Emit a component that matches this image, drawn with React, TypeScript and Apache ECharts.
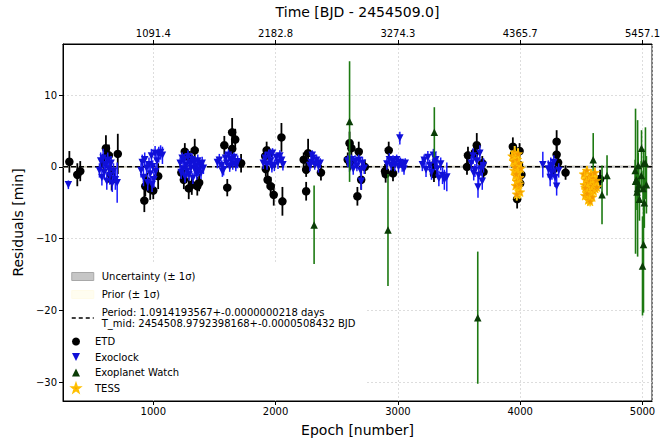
import React, { useEffect, useRef } from "react";
import * as echarts from "echarts";

const PERIOD = 1.0914193567;
const X_MIN = 262;
const X_MAX = 5078;
const Y_MIN = -32.6;
const Y_MAX = 17.1;
const FONT = "DejaVu Sans";

// ETD
const etdEpoch = [314, 379, 403,
  613, 605, 637, 710, 653, 660, 600,
  927, 935, 975, 1040, 950, 1000,
  1258, 1339, 1230, 1250, 1315, 1360, 1375, 1290, 1300,
  1581, 1645, 1670, 1645, 1718, 1605,
  1927, 1945, 2048, 1920, 1935, 1960, 1985, 2056, 1915,
  2266, 2230, 2250, 2371, 2250,
  2605, 2620, 2680, 2610, 2669, 2700, 2730, 2590,
  2925, 2895, 2900, 2960,
  3290, 3295,
  3573, 3645, 3565, 3700, 3690, 3630,
  3940, 3995, 3990, 4010, 4000, 3975, 3950,
  4298, 4298, 4310, 4270, 4371,
  4653];
const etdResid = [0.7, -1.1, -0.6,
  2.6, 1.3, 1.6, 1.8, -1.1, -1.8, 0.3,
  -4.7, -2.7, -3.1, -1.3, -2.0, -3.3,
  2.1, 2.3, -0.8, -1.8, -2.5, -2.7, -2.2, -3.0, 1.2,
  3.0, 4.8, 3.8, 2.5, 0.5, -2.9,
  2.3, 1.8, 4.1, -0.3, -1.8, -2.7, -3.9, -4.8, 1.5,
  1.9, 1.0, -0.4, -0.8, -3.4,
  3.3, 2.6, 2.1, 0.5, -4.1, -1.8, 0.0, 1.0,
  2.3, -0.6, -1.0, -0.9,
  0.2, -1.0,
  1.6, 3.0, 0.0, -0.7, 0.5, 2.0,
  2.8, 2.2, 0.3, -1.1, -2.3, -4.5, 1.8,
  3.5, 1.7, 0.6, -0.4, -0.8,
  -1.7];
const etdErr = [1.5, 1.6, 1.4,
  1.8, 1.2, 1.5, 2.8, 1.3, 1.5, 1.0,
  1.6, 1.4, 1.5, 1.8, 1.2, 1.2,
  1.2, 1.6, 1.0, 1.3, 1.4, 1.3, 1.2, 1.5, 1.0,
  1.3, 2.0, 1.5, 1.4, 1.3, 1.2,
  1.2, 1.0, 2.0, 1.0, 1.2, 1.3, 1.5, 2.0, 1.0,
  2.0, 1.0, 1.0, 1.1, 1.3,
  1.6, 1.2, 1.4, 1.0, 1.3, 1.4, 1.0, 1.0,
  1.2, 1.0, 1.2, 1.1,
  1.0, 1.1,
  1.2, 1.7, 1.1, 1.0, 1.0, 1.0,
  1.3, 1.1, 1.2, 1.0, 1.2, 1.3, 1.0,
  1.6, 1.2, 1.0, 1.0, 1.0,
  1.3];

// Exoclock
const exoEpoch = [306,
  560, 570, 580, 590, 600, 610, 620, 628, 636, 645, 655, 665, 675, 690, 705,
  900, 910, 920, 930, 945, 955, 965, 975, 985, 995, 1005, 1015, 1030, 1045, 1060, 1075, 1020, 990,
  1220, 1228, 1236, 1244, 1252, 1260, 1268, 1276, 1284, 1292, 1300, 1308, 1316, 1324, 1332, 1340, 1348, 1356, 1364, 1372, 1380, 1390, 1400, 1410,
  1524, 1540, 1560, 1575, 1590, 1600, 1615, 1625, 1635, 1650, 1660, 1675, 1690, 1565,
  1900, 1915, 1930, 1945, 1960, 1975, 1990, 2005, 2020, 2035, 2050, 2060, 1970,
  2290, 2305, 2320, 2335, 2350, 2300, 2280, 2365,
  2590, 2605, 2620, 2635, 2650, 2665, 2680, 2695, 2710, 2725, 2700,
  3016, 2910, 2930, 2945, 2960, 2975, 2990, 3005, 3020, 3035, 3050, 3060,
  3200, 3215, 3230, 3245, 3260, 3275, 3290, 3305, 3320, 3335, 3350, 3365, 3380, 3400, 3310,
  3600, 3615, 3630, 3645, 3660, 3670, 3680, 3690, 3655, 3700, 3620,
  4185, 4245, 4260, 4285, 4298, 4275, 4250, 4315, 4230];
const exoResid = [-2.5,
  -0.5, 0.8, -1.5, 1.2, -0.8, 0.3, -2.0, 0.9, -0.3, -1.2, 0.5, -2.3, -0.6, -1.8, -2.2,
  -0.5, 0.6, -1.5, 1.0, -0.2, -2.2, 0.3, -1.0, 1.5, 0.0, -1.8, 1.9, 0.8, 1.7, 2.0, 1.6, -0.7, -2.5,
  0.5, -0.8, 1.2, -0.3, 0.9, -1.4, 0.2, -0.6, 1.4, -1.1, 0.4, -0.2, 1.0, -1.6, 0.6, -0.4, 0.1, -1.0, 0.8, -0.5, 0.3, -0.9, 0.5, -0.2,
  0.6, 0.9, 0.2, -0.4, 1.2, 0.5, 1.6, 0.0, 1.0, 0.4, 1.3, 0.2, 0.7, -0.6,
  0.5, 1.2, 0.3, 1.6, 0.8, 1.9, 0.2, 1.3, 0.6, 1.5, 0.9, 0.3, 0.0,
  0.6, 1.2, 0.3, 0.9, 0.1, 1.6, 0.2, 0.5,
  0.8, 0.2, 1.0, -0.3, 0.7, 0.1, 0.9, -0.5, 0.5, -0.2, -2.0,
  4.0, 0.4, 1.0, 0.2, 0.8, 0.3, 1.0, 0.0, 0.6, 0.2, -0.3, 0.5,
  0.3, 0.9, -0.4, 1.3, 0.2, -0.8, 1.6, 0.5, -0.3, -1.6, 0.4, -1.2, -1.8, -1.4, 1.0,
  0.5, 1.5, -0.5, 0.8, -1.2, 1.9, -0.3, -2.0, -2.8, 0.2, -0.9,
  0.3, -1.5, -0.8, -1.5, -2.7, 0.6, 0.2, -0.5, -0.3];
const exoErr = [0.6,
  1.0, 1.2, 1.1, 1.3, 1.0, 0.9, 1.2, 1.1, 1.0, 1.3, 1.0, 1.2, 1.1, 1.4, 2.8,
  1.0, 1.1, 1.2, 1.0, 0.9, 1.1, 1.0, 1.2, 1.0, 0.9, 1.1, 1.0, 1.0, 1.1, 1.0, 1.2, 0.9, 1.0,
  0.8, 0.9, 0.8, 0.7, 0.9, 0.8, 0.7, 0.8, 0.9, 0.8, 0.7, 0.8, 0.9, 0.8, 0.7, 0.8, 0.7, 0.8, 0.9, 0.8, 0.7, 0.8, 0.9, 0.8,
  0.8, 0.9, 0.7, 0.8, 0.9, 0.7, 0.8, 0.7, 0.9, 0.8, 0.7, 0.8, 0.9, 0.8,
  0.8, 0.9, 0.7, 0.8, 0.9, 0.7, 0.8, 0.7, 0.9, 0.8, 0.7, 0.8, 0.8,
  0.8, 0.9, 0.7, 0.8, 0.9, 0.7, 0.8, 0.7,
  0.8, 0.9, 0.7, 0.8, 0.9, 0.7, 0.8, 0.7, 0.9, 0.8, 1.2,
  0.9, 0.8, 0.9, 0.7, 0.8, 0.9, 0.7, 0.8, 0.7, 0.9, 0.8, 0.7,
  0.9, 0.8, 1.0, 0.9, 0.8, 1.0, 0.9, 0.8, 1.0, 1.1, 0.9, 1.2, 1.4, 2.0, 0.9,
  1.0, 1.1, 0.9, 1.0, 1.2, 1.1, 0.9, 1.2, 1.5, 1.0, 1.0,
  1.8, 1.2, 1.0, 1.3, 1.3, 1.0, 1.1, 1.0, 1.2];

// Exoplanet Watch
const ewEpoch = [2315, 2605, 2919, 3298, 3653, 4597, 4669, 4710,
  4943, 4960, 4992, 5000, 5008, 5024, 5032,
  4940, 4950, 4955, 4965, 4970, 4975, 4990, 5005, 5010, 5015];
const ewResid = [-8.1, 6.3, -8.8, 4.8, -21.0, 1.0, -3.9, -1.2,
  -2.0, -3.0, 2.6, -13.8, -10.8, 0.5, -2.5,
  -0.5, -1.8, -3.5, 0.2, -2.5, -4.5, -1.2, -3.0, 0.5, -5.0];
const ewErr = [5.5, 8.4, 7.8, 3.5, 9.2, 3.7, 4.1, 2.8,
  10.1, 9.5, 2.5, 6.9, 9.5, 5.0, 4.0,
  1.5, 2.0, 2.5, 1.8, 2.2, 3.0, 2.0, 2.5, 2.0, 3.5];

// TESS
const tessEpoch = [3935, 3945, 3950, 3955, 3960, 3965, 3970, 3975, 3980, 3985, 3990, 3995, 4000, 4005, 3962, 3972, 3958, 3982, 3992, 3968,
  4520, 4525, 4530, 4535, 4540, 4545, 4550, 4555, 4560, 4565, 4570, 4575, 4580, 4585, 4590, 4595, 4600, 4605, 4610, 4615, 4620, 4627, 4532, 4547, 4572];
const tessResid = [1.5, 0.8, -0.5, 2.0, -1.2, 0.3, -2.0, 1.0, -0.8, -2.8, 0.5, -1.5, -3.5, -0.2, -2.6, -3.8, 0.0, 1.8, -2.4, -1.0,
  -1.0, -2.5, -4.0, -1.8, -3.2, -0.5, -2.2, -4.6, -1.4, -3.0, -2.0, -3.8, -1.0, -2.6, -4.2, -1.6, -3.3, -2.4, -0.8, -3.0, -1.9, -2.8, -2.9, -3.7, -4.8];
const tessErr = [0.8, 0.7, 0.8, 0.9, 0.7, 0.8, 0.9, 0.7, 0.8, 0.9, 0.7, 0.8, 0.9, 0.7, 0.8, 0.9, 0.7, 0.8, 0.9, 0.7,
  0.7, 0.8, 0.6, 0.7, 0.8, 0.6, 0.7, 0.8, 0.6, 0.7, 0.8, 0.6, 0.7, 0.8, 0.6, 0.7, 0.8, 0.6, 0.7, 0.8, 0.6, 0.7, 0.8, 0.6, 0.7];

// model line and bands
const modelEpoch = [X_MIN, X_MAX];
const modelResid = [0, 0];
const uncertHalf = [0.08, 0.17];
const priorHalf = [0.15, 0.2];

const LEGEND_PERIOD = "Period: 1.0914193567+-0.0000000218 days\nT_mid: 2454508.9792398168+-0.0000508432 BJD";
const DOWN_TRI = "path://M0,0 L10,0 L5,10 Z";
const UP_TRI = "path://M5,0 L10,10 L0,10 Z";
const STAR = "path://M5,0 L6.2,3.6 L10,3.8 L7,6.2 L8.1,10 L5,7.8 L1.9,10 L3,6.2 L0,3.8 L3.8,3.6 Z";

function errorSeries(id: string, ep: number[], re: number[], er: number[], color: string, width: number, z: number) {
  return {
    type: "custom",
    id,
    name: id,
    z,
    silent: true,
    clip: true,
    data: ep.map((e, i) => [e, re[i], er[i]]),
    encode: { x: 0, y: 1 },
    renderItem: (params: any, api: any) => {
      const x = api.value(0);
      const y = api.value(1);
      const e = api.value(2);
      const p1 = api.coord([x, y - e]);
      const p2 = api.coord([x, y + e]);
      return {
        type: "line",
        shape: { x1: p1[0], y1: p1[1], x2: p2[0], y2: p2[1] },
        style: { stroke: color, lineWidth: width },
      };
    },
  };
}

function bandSeries(name: string, half: number[], fill: string, z: number) {
  return {
    type: "custom",
    name,
    z,
    silent: true,
    itemStyle: { color: fill },
    data: modelEpoch.map((e, i) => [e, modelResid[i], half[i]]),
    encode: { x: 0, y: 1 },
    renderItem: (params: any, api: any) => {
      if (params.dataIndex !== 0) return null;
      const pts: number[][] = [];
      for (let i = 0; i < modelEpoch.length; i++) pts.push(api.coord([modelEpoch[i], modelResid[i] + half[i]]));
      for (let i = modelEpoch.length - 1; i >= 0; i--) pts.push(api.coord([modelEpoch[i], modelResid[i] - half[i]]));
      return { type: "polygon", shape: { points: pts }, style: { fill } };
    },
  };
}

const minusFmt = (v: number) => (v < 0 ? "\u2212" + Math.abs(v) : String(v));

export default function App() {
  const ref = useRef<HTMLDivElement>(null);
  useEffect(() => {
    if (!ref.current) return;
    const chart = echarts.init(ref.current, null, { renderer: "svg", width: 663, height: 442 });
    const axisCommon = {
      type: "value",
      min: X_MIN,
      max: X_MAX,
      splitNumber: 5,
      axisLine: { onZero: false, lineStyle: { color: "#000", width: 1 } },
      axisTick: { length: 4, lineStyle: { color: "#000" } },
    };
    const legendText = { fontSize: 10, color: "#000", fontFamily: FONT, lineHeight: 11, padding: [0, 0, 0, 3] };
    chart.setOption({
      animation: false,
      backgroundColor: "#fff",
      textStyle: { fontFamily: FONT },
      grid: { left: 63, right: 3, top: 43, bottom: 39, show: true, borderColor: "#000", borderWidth: 1, backgroundColor: "transparent" },
      graphic: [
        { type: "rect", z: 50, silent: true, shape: { x: 64, y: 264, width: 301, height: 136 }, style: { fill: "#fff" } },
      ],
      xAxis: [
        {
          ...axisCommon,
          position: "bottom",
          name: "Epoch [number]",
          nameLocation: "middle",
          nameGap: 22,
          nameTextStyle: { fontSize: 14, color: "#000", fontFamily: FONT },
          axisLabel: { showMinLabel: false, showMaxLabel: false, fontSize: 10, color: "#000", margin: 5, fontFamily: FONT, formatter: (v: number) => String(v) },
          splitLine: { show: true, lineStyle: { color: "#d4d4d4", width: 0.8, type: [2, 2] } },
        },
        {
          ...axisCommon,
          position: "top",
          name: "Time [BJD - 2454509.0]",
          nameLocation: "middle",
          nameGap: 25,
          nameTextStyle: { fontSize: 14, color: "#000", fontFamily: FONT },
          axisLabel: {
            showMinLabel: false,
            showMaxLabel: false,
            fontSize: 10,
            color: "#000",
            margin: 6,
            fontFamily: FONT,
            formatter: (v: number) => (v * PERIOD).toFixed(1),
          },
          splitLine: { show: false },
        },
      ],
      yAxis: {
        type: "value",
        min: Y_MIN,
        max: Y_MAX,
        splitNumber: 5,
        name: "Residuals [min]",
        nameLocation: "middle",
        nameGap: 31,
        nameRotate: 90,
        nameTextStyle: { fontSize: 14, color: "#000", fontFamily: FONT },
        axisLine: { onZero: false, lineStyle: { color: "#000", width: 1 } },
        axisTick: { length: 4, lineStyle: { color: "#000" } },
        axisLabel: { showMinLabel: false, showMaxLabel: false, fontSize: 10, color: "#000", margin: 6, fontFamily: FONT, formatter: minusFmt },
        splitLine: { show: true, lineStyle: { color: "#d4d4d4", width: 0.8, type: [2, 2] } },
      },
      legend: [
        {
          orient: "vertical",
          left: 71,
          top: 271,
          z: 60,
          padding: 0,
          itemGap: 7,
          itemWidth: 22,
          itemHeight: 8,
          textStyle: legendText,
          data: [
            { name: "Uncertainty (± 1σ)", icon: "rect", itemStyle: { color: "#c6c6c6", borderColor: "#a8a8a8", borderWidth: 1 } },
            { name: "Prior (± 1σ)", icon: "rect", itemStyle: { color: "#fffdf0", borderColor: "#fffbe8", borderWidth: 1 } },
            { name: LEGEND_PERIOD, itemStyle: { color: "rgba(0,0,0,0)", borderWidth: 0, opacity: 0 }, lineStyle: { color: "#000", width: 1.5, type: [4, 3] } },
          ],
        },
        {
          orient: "vertical",
          left: 71,
          top: 336,
          z: 60,
          padding: 0,
          itemGap: 4.5,
          itemWidth: 22,
          itemHeight: 8,
          textStyle: legendText,
          data: ["ETD", "Exoclock", "Exoplanet Watch", "TESS"],
        },
      ],
      series: [
        bandSeries("Prior (± 1σ)", priorHalf, "rgba(255,248,200,0.7)", 1),
        bandSeries("Uncertainty (± 1σ)", uncertHalf, "#c6c6c6", 2),
        {
          type: "line",
          name: LEGEND_PERIOD,
          z: 3,
          symbol: "none",
          silent: true,
          data: modelEpoch.map((e, i) => [e, modelResid[i]]),
          lineStyle: { color: "#000", width: 1.5, type: [5, 3] },
          itemStyle: { color: "#000" },
        },
        errorSeries("etd-err", etdEpoch, etdResid, etdErr, "#000", 1.8, 4),
        {
          type: "scatter",
          name: "ETD",
          z: 5,
          symbol: "circle",
          symbolSize: 8.5,
          itemStyle: { color: "#000", opacity: 1 },
          data: etdEpoch.map((e, i) => [e, etdResid[i]]),
        },
        errorSeries("exo-err", exoEpoch, exoResid, exoErr, "#1a1aff", 1.5, 6),
        {
          type: "scatter",
          name: "Exoclock",
          z: 7,
          symbol: DOWN_TRI,
          symbolKeepAspect: true,
          symbolSize: 7.5,
          itemStyle: { color: "#1010d8", opacity: 1 },
          data: exoEpoch.map((e, i) => [e, exoResid[i]]),
        },
        errorSeries("ew-err", ewEpoch, ewResid, ewErr, "#1d7a12", 1.6, 8),
        {
          type: "scatter",
          name: "Exoplanet Watch",
          z: 9,
          symbol: UP_TRI,
          symbolKeepAspect: true,
          symbolSize: 7.5,
          itemStyle: { color: "#0a3d06", opacity: 1 },
          data: ewEpoch.map((e, i) => [e, ewResid[i]]),
        },
        errorSeries("tess-err", tessEpoch, tessResid, tessErr, "#ffd21a", 2, 10),
        {
          type: "scatter",
          name: "TESS",
          z: 11,
          symbol: STAR,
          symbolKeepAspect: true,
          symbolSize: 9,
          itemStyle: { color: "#f59a00", borderColor: "#ffc000", borderWidth: 0.8, opacity: 1 },
          data: tessEpoch.map((e, i) => [e, tessResid[i]]),
        },
      ],
    });
    return () => chart.dispose();
  }, []);
  return <div ref={ref} style={{ width: 663, height: 442, position: "absolute", left: 0, top: 0 }} />;
}
